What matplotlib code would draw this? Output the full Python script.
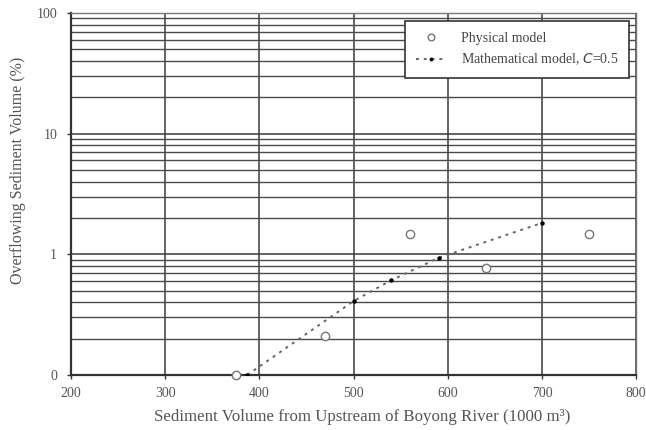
import matplotlib.pyplot as plt
from matplotlib.ticker import FixedLocator, LogLocator, FuncFormatter

plt.rcParams['font.family'] = ['Liberation Serif', 'DejaVu Serif']

# physical model measurements
phys_x = [375, 470, 560, 640, 750]
phys_y = [0.1, 0.21, 1.47, 0.77, 1.47]

# mathematical model, C = 0.5
math_x = [387, 500, 540, 591, 700]
math_y = [0.1, 0.41, 0.61, 0.94, 1.82]

x_ticks = [200, 300, 400, 500, 600, 700, 800]
y_ticks = [0.1, 1, 10, 100]
y_labels = ['0', '1', '10', '100']

figure = plt.figure(figsize=(6.46, 4.30), dpi=100)
axis = figure.add_axes([0.110, 0.128, 0.875, 0.842])

axis.set_yscale('log')
axis.set_xlim(200, 800)
axis.set_ylim(0.1, 100)

axis.xaxis.set_major_locator(FixedLocator(x_ticks))
axis.yaxis.set_major_locator(FixedLocator(y_ticks))
axis.yaxis.set_major_formatter(FuncFormatter(lambda v, p: y_labels[y_ticks.index(v)] if v in y_ticks else ''))
axis.yaxis.set_minor_locator(LogLocator(base=10, subs=range(2, 10)))
axis.yaxis.set_minor_formatter(FuncFormatter(lambda v, p: ''))

axis.grid(True, which='major', axis='both', color='#3a3a3a', linewidth=1.1)
axis.grid(True, which='minor', axis='y', color='#4a4a4a', linewidth=1.0)
axis.tick_params(axis='both', which='major', direction='out', length=3, width=1,
                 labelsize=10, labelcolor='#555555', color='#333333')
axis.tick_params(axis='y', which='minor', length=0)
axis.tick_params(axis='x', pad=6)
axis.tick_params(axis='y', pad=7)

for side in ['left', 'bottom']:
    axis.spines[side].set_linewidth(1.6)
    axis.spines[side].set_color('#333333')
for side in ['top', 'right']:
    axis.spines[side].set_linewidth(1.0)
    axis.spines[side].set_color('#777777')

axis.plot(math_x, math_y, linestyle=(0, (1.5, 2.5)), color='#666666', linewidth=1.4,
          marker='o', markersize=2.2, markerfacecolor='black', markeredgecolor='black',
          label='Mathematical model, $\\mathit{C}$=0.5', zorder=3)
axis.plot(phys_x, phys_y, linestyle='none', marker='o', markersize=6,
          markerfacecolor='white', markeredgecolor='#777777', markeredgewidth=1.0,
          label='Physical model', zorder=4, clip_on=False)

handles, labels = axis.get_legend_handles_labels()
legend = axis.legend(handles[::-1], labels[::-1], loc='upper right',
                     bbox_to_anchor=(0.995, 0.99), fontsize=10, frameon=True,
                     fancybox=False, edgecolor='#333333', framealpha=1,
                     borderpad=0.8, handlelength=2.2, labelspacing=0.5,
                     handletextpad=1.0, borderaxespad=0.3, markerscale=0.8)
legend.get_frame().set_linewidth(1.2)
for text in legend.get_texts():
    text.set_color('#444444')

axis.set_xlabel('Sediment Volume from Upstream of Boyong River (1000 m³)',
                fontsize=12.2, color='#555555')
axis.xaxis.set_label_coords(0.515, -0.095)
axis.set_ylabel('Overflowing Sediment Volume (%)', fontsize=11.5, color='#555555')
axis.yaxis.set_label_coords(-0.079, 0.565)

figure.savefig('out.png', dpi=100)
